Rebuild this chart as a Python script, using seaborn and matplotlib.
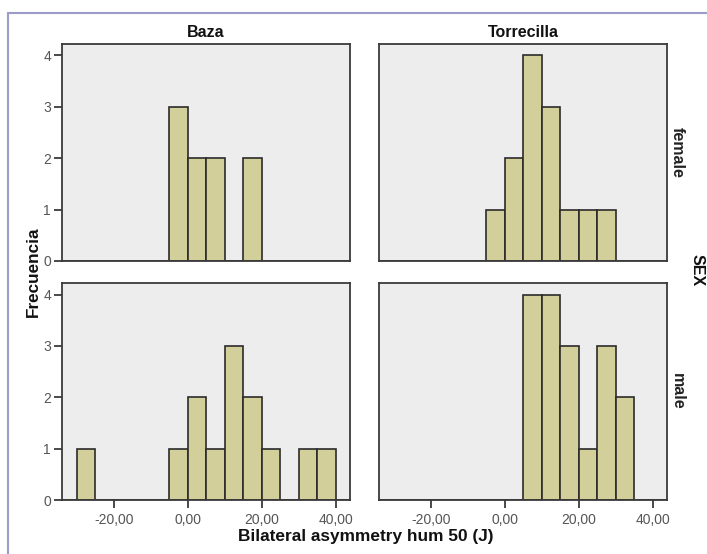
import matplotlib
matplotlib.use("Agg")
import matplotlib.pyplot as plt
from matplotlib.lines import Line2D
import seaborn as sns
import pandas as pd

sns.set_style("white")
plt.rcParams['font.family'] = ['Liberation Sans', 'DejaVu Sans']

# Data: histogram bins (width 5) and counts per panel
bin_edges = [-35, -30, -25, -20, -15, -10, -5, 0, 5, 10, 15, 20, 25, 30, 35, 40, 45]
bin_left = bin_edges[:-1]
baza_female = [0, 0, 0, 0, 0, 0, 3, 2, 2, 0, 2, 0, 0, 0, 0, 0]
baza_male = [0, 1, 0, 0, 0, 0, 1, 2, 1, 3, 2, 1, 0, 1, 1, 0]
torre_female = [0, 0, 0, 0, 0, 0, 1, 2, 4, 3, 1, 1, 1, 0, 0, 0]
torre_male = [0, 0, 0, 0, 0, 0, 0, 0, 4, 4, 3, 1, 3, 2, 0, 0]

columns = ["Baza", "Torrecilla"]
rows = ["female", "male"]
x_ticks = [-20, 0, 20, 40]
x_tick_labels = ["-20,00", "0,00", "20,00", "40,00"]
y_ticks = [0, 1, 2, 3, 4]

panels = {
    ("female", "Baza"): baza_female,
    ("male", "Baza"): baza_male,
    ("female", "Torrecilla"): torre_female,
    ("male", "Torrecilla"): torre_male,
}

W, H = 707, 554
fig = plt.figure(figsize=(W / 100, H / 100), dpi=100)
fig.patch.set_facecolor("white")

col_x = {"Baza": 62, "Torrecilla": 379}
row_y = {"female": (43.7, 261), "male": (283.3, 500)}
ax_w = 288

bar_color = "#d3cf9b"
edge_color = "#2b2b2b"
spine_color = "#3a3a3a"

for (row, col), counts in panels.items():
    x0 = col_x[col]
    y_top, y_bot = row_y[row]
    ax = fig.add_axes([x0 / W, 1 - y_bot / H, ax_w / W, (y_bot - y_top) / H])
    df = pd.DataFrame({"x": [b + 2.5 for b in bin_left], "w": counts})
    df = df[df["w"] > 0]
    sns.histplot(data=df, x="x", weights="w", bins=bin_edges, ax=ax,
                 color=bar_color, alpha=1, edgecolor=edge_color, linewidth=1.2)
    ax.set_facecolor("#ededed")
    ax.set_xlim(-34, 43.8)
    ax.set_ylim(0, 4.22)
    ax.set_xlabel("")
    ax.set_ylabel("")
    for s in ax.spines.values():
        s.set_color(spine_color)
        s.set_linewidth(1.3)
    ax.tick_params(axis="both", which="both", direction="out", length=6,
                   width=1.3, color=spine_color, labelsize=10, labelcolor="#555555",
                   bottom=True, left=True)
    if row == "male":
        ax.set_xticks(x_ticks)
        ax.set_xticklabels(x_tick_labels)
        ax.tick_params(axis="x", pad=3)
    else:
        ax.set_xticks([])
    if col == "Baza":
        ax.set_yticks(y_ticks)
        ax.set_yticklabels([str(v) for v in y_ticks])
        ax.tick_params(axis="y", pad=2)
    else:
        ax.set_yticks([])
    if row == "female":
        ax.text(0.5, 1.015, col, transform=ax.transAxes, ha="center", va="bottom",
                fontsize=11.5, fontweight="bold", color="#111111")
    if col == "Torrecilla":
        ax.text(1.035, 0.5, row, transform=ax.transAxes, ha="center", va="center",
                rotation=-90, fontsize=11.5, fontweight="bold", color="#222222")

fig.text(697 / W, 1 - 270 / H, "SEX", rotation=-90, ha="center", va="center",
         fontsize=11.5, fontweight="bold", color="#111111")
fig.text(33 / W, 1 - 272 / H, "Frecuencia", rotation=90, ha="center", va="center",
         fontsize=12.3, fontweight="bold", color="#111111")
fig.text(366 / W, 1 - 537 / H, "Bilateral asymmetry hum 50 (J)", ha="center", va="center",
         fontsize=12.4, fontweight="bold", color="#111111")

border = "#9c9cc8"
fig.add_artist(Line2D([8 / W, 1], [1 - 13 / H, 1 - 13 / H], transform=fig.transFigure,
                      color=border, linewidth=1.5))
fig.add_artist(Line2D([8 / W, 8 / W], [0, 1 - 13 / H], transform=fig.transFigure,
                      color=border, linewidth=1.5))

fig.savefig("out.png", dpi=100)
